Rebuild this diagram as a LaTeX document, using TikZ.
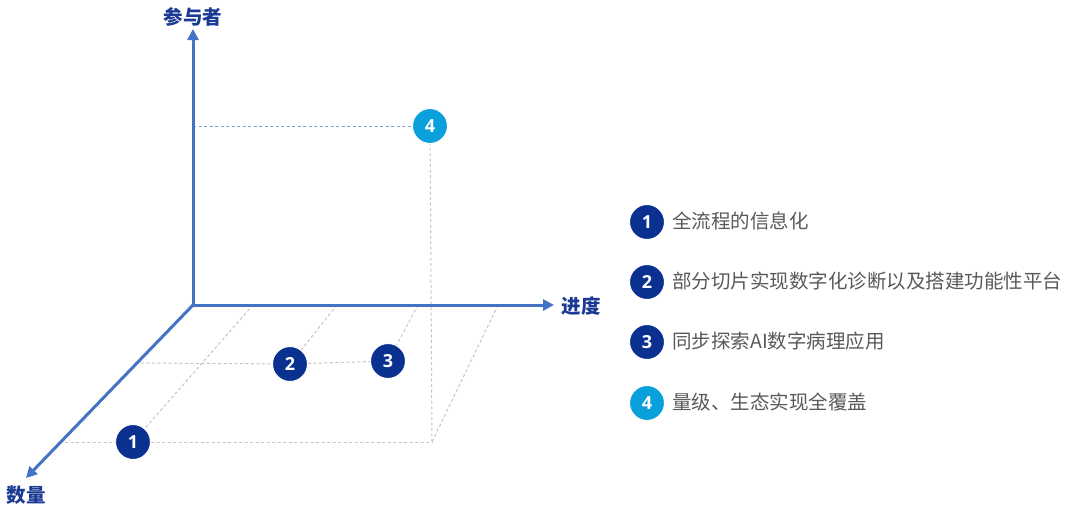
\documentclass[tikz,border=0pt]{standalone}
\usepackage{fontspec}
\setmainfont{Noto Sans CJK SC}
\newfontfamily\numfont{Open Sans}
\usetikzlibrary{arrows.meta}
\definecolor{axisblue}{HTML}{4472C4}
\definecolor{circblue}{HTML}{0B3190}
\definecolor{circcyan}{HTML}{0AA0DC}
\definecolor{labelblue}{HTML}{1A3A94}
\definecolor{textgray}{HTML}{595959}
\definecolor{dashgray}{HTML}{C4C4C4}
\definecolor{dashblue}{HTML}{7EA0DC}
\tikzset{
  axisline/.style={draw=axisblue, line width=3pt, -{Triangle[length=11pt,width=11pt]}},
  dashg/.style={draw=dashgray, line width=1pt, dash pattern=on 3pt off 2.5pt},
  dashb/.style={draw=dashblue, line width=1pt, dash pattern=on 3pt off 2.5pt},
  numc/.style={circle, fill=circblue, draw=white, line width=1pt, minimum size=35pt, inner sep=0pt, text=white, font=\numfont\bfseries\fontsize{18}{18}\selectfont},
  numcyan/.style={numc, fill=circcyan},
  axlab/.style={text=labelblue, font=\bfseries\fontsize{19.5}{19.5}\selectfont, inner sep=0pt},
  legtext/.style={anchor=west, text=textgray, font=\fontsize{19.5}{22}\selectfont, inner sep=0pt}
}
\begin{document}
\begin{tikzpicture}[x=1pt,y=-1pt]
\useasboundingbox (0,0) rectangle (1080,509);
% coordinates
\coordinate (O) at (193,305);
\coordinate (ytip) at (193,29);
\coordinate (xtip) at (554,305);
\coordinate (ztip) at (26,478);
\coordinate (b1) at (253,305);
\coordinate (b2) at (337,305);
\coordinate (b3) at (418,305);
\coordinate (b4) at (498,305);
\coordinate (m0) at (141,363);
\coordinate (f0) at (65,442);
\coordinate (corner) at (432,442);
\coordinate (v4) at (193,126);
% markers
\node[numc] (c1) at (133,442) {1};
\node[numc] (c2) at (290,364) {2};
\node[numc] (c3) at (388,361) {3};
\node[numcyan] (c4) at (430,126) {4};
% dashed guides
\draw[dashg] (b1) -- (c1);
\draw[dashg] (b2) -- (c2);
\draw[dashg] (b3) -- (c3);
\draw[dashg] (b4) -- (corner);
\draw[dashg] (m0) -- (c2);
\draw[dashg] (c2) -- (c3);
\draw[dashg] (f0) -- (c1);
\draw[dashg] (c1) -- (corner);
\draw[dashg] (corner) -- (c4);
\draw[dashb] (v4) -- (c4);
% axes
\draw[axisline] (O) -- (ytip);
\draw[axisline] (O) -- (xtip);
\draw[axisline] (O) -- (ztip);
\fill[axisblue] (O) ++(-1.5,-1.5) rectangle ++(3,3);
% axis labels
\node[axlab] (ly) at (193,17) {参与者};
\node[axlab] (lx) at (581,306) {进度};
\node[axlab] (lz) at (26,495) {数量};
% legend
\node[numc] (l1) at (647,222) {1};
\node[numc] (l2) at (647,282) {2};
\node[numc] (l3) at (647,342) {3};
\node[numcyan] (l4) at (647,403) {4};
\node[legtext] (t1) at (672,221) {全流程的信息化};
\node[legtext] (t2) at (672,281) {部分切片实现数字化诊断以及搭建功能性平台};
\node[legtext] (t3) at (672,341) {同步探索AI数字病理应用};
\node[legtext] (t4) at (672,402) {量级、生态实现全覆盖};
\end{tikzpicture}
\end{document}
